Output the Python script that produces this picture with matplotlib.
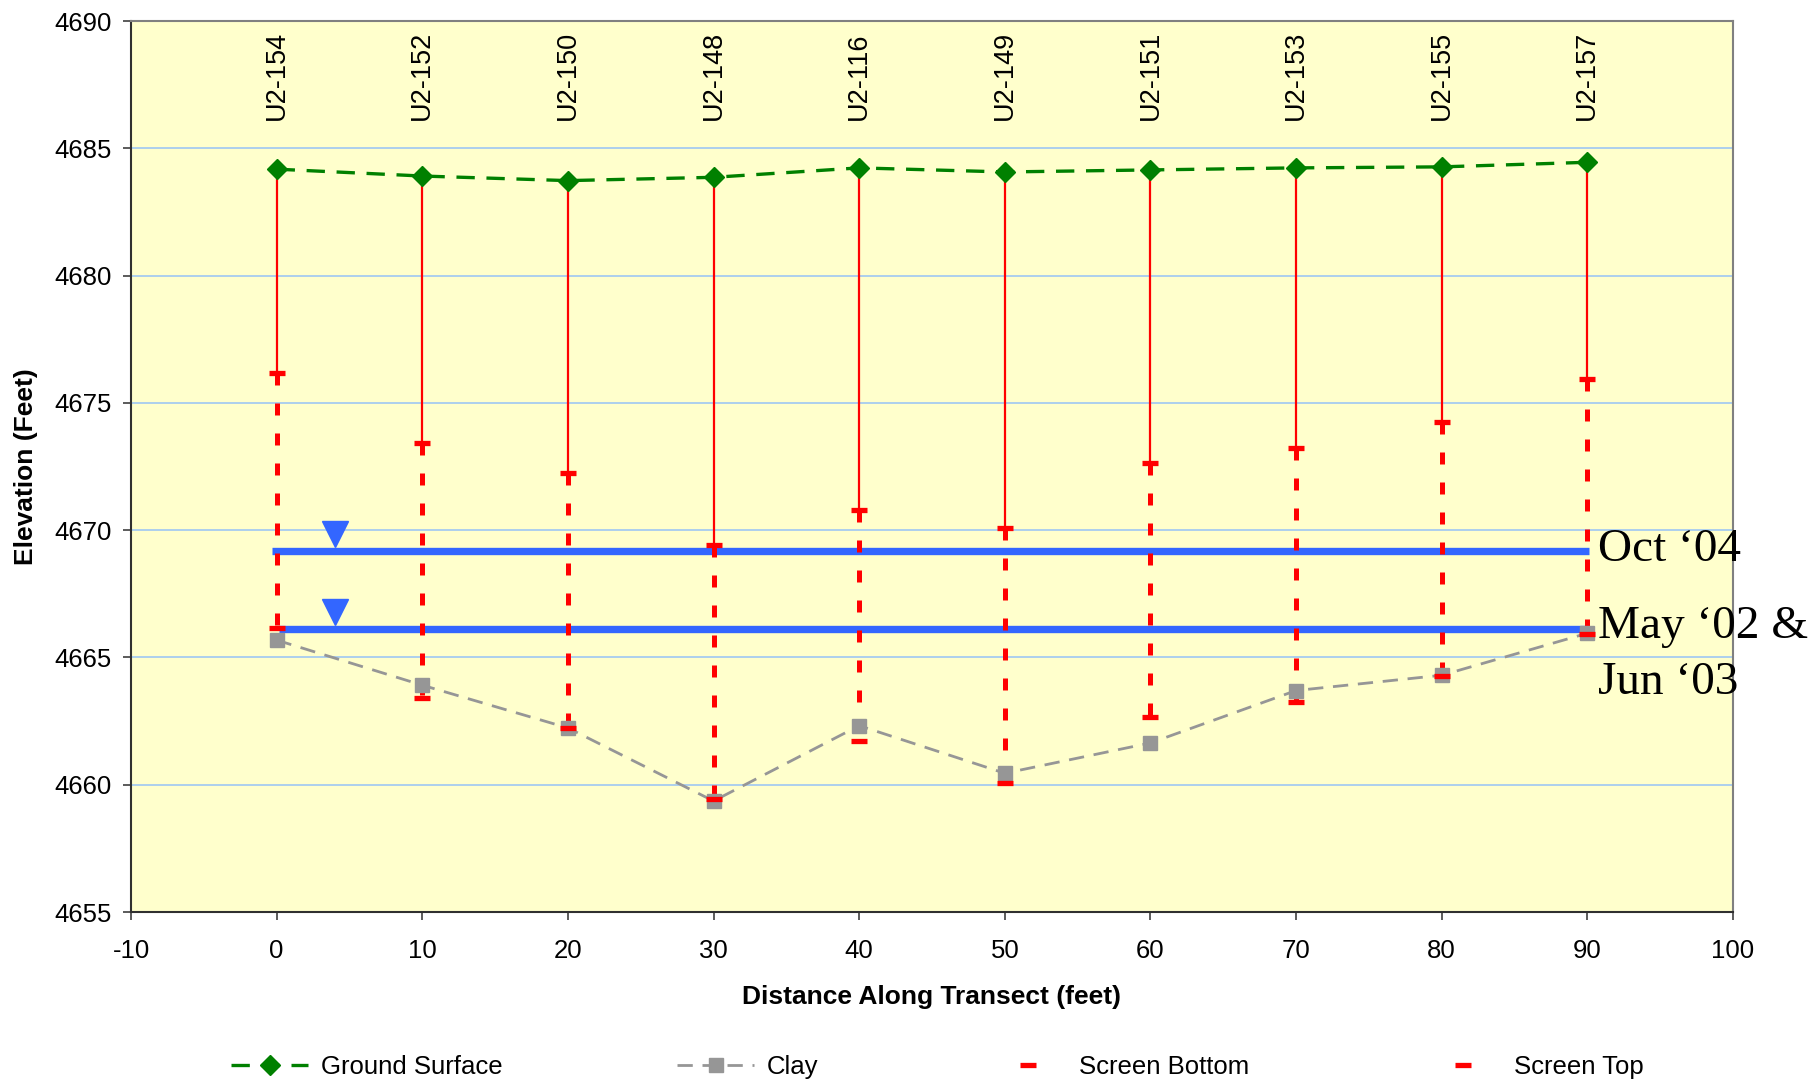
import matplotlib
matplotlib.use("Agg")
import matplotlib.pyplot as plt
import numpy as np

plt.rcParams['font.family'] = ['Liberation Sans', 'DejaVu Sans']
plt.rcParams['axes.unicode_minus'] = False

# ---------------- data ----------------
distance = [0, 10, 20, 30, 40, 50, 60, 70, 80, 90]
wells = ['U2-154', 'U2-152', 'U2-150', 'U2-148', 'U2-116',
         'U2-149', 'U2-151', 'U2-153', 'U2-155', 'U2-157']
ground_surface = [4684.18, 4683.91, 4683.73, 4683.86, 4684.23,
                  4684.07, 4684.15, 4684.23, 4684.27, 4684.45]
clay = [4665.68, 4663.91, 4662.23, 4659.36, 4662.32,
        4660.45, 4661.64, 4663.70, 4664.30, 4665.95]
screen_bottom = [4666.14, 4663.41, 4662.23, 4659.45, 4661.73,
                 4660.07, 4662.66, 4663.25, 4664.26, 4665.91]
screen_top = [4676.18, 4673.41, 4672.23, 4669.41, 4670.80,
              4670.09, 4672.65, 4673.22, 4674.24, 4675.92]
water_labels = ['Oct \u201804', 'May \u201802 &\nJun \u201803']
water_levels = [4669.17, 4666.12]
water_start = [-0.35, 0.15]
water_end = [90.1, 90.1]
marker_x = 4.0

xticks = [-10, 0, 10, 20, 30, 40, 50, 60, 70, 80, 90, 100]
yticks = [4655, 4660, 4665, 4670, 4675, 4680, 4685, 4690]

# ---------------- figure ----------------
fig = plt.figure(figsize=(18.14, 10.80), dpi=100)
ax = fig.add_axes([131 / 1814, 1 - 912 / 1080, (1733 - 131) / 1814, (912 - 21) / 1080])
ax.set_facecolor('#FFFFCC')
ax.set_xlim(-10, 100)
ax.set_ylim(4655, 4690)
ax.set_xticks(xticks)
ax.set_yticks(yticks)
ax.yaxis.grid(True, color='#A6CCF0', lw=1.3)
ax.set_axisbelow(True)

for s in ['top', 'right']:
    ax.spines[s].set_color('#808080')
    ax.spines[s].set_linewidth(1.5)
for s in ['left', 'bottom']:
    ax.spines[s].set_color('#303030')
    ax.spines[s].set_linewidth(1.5)
ax.tick_params(axis='both', direction='out', length=6, width=1.2, color='#404040',
               labelsize=18.5, pad=8)
ax.tick_params(axis='x', pad=13.5)

# water levels
blue = '#3366FF'
for lvl, x0, x1 in zip(water_levels, water_start, water_end):
    ax.plot([x0, x1], [lvl, lvl], color=blue, lw=5.3, solid_capstyle='butt', zorder=2)
    ax.plot([marker_x], [lvl + 0.68], marker='v', ms=18.5, color=blue, ls='none', zorder=2)

# solid riser lines (ground to screen top)
ax.vlines(distance, screen_top, ground_surface, colors='#FF0000', lw=1.6, zorder=3)
# dashed screened interval (screen top down to screen bottom)
ax.vlines(distance, screen_top, screen_bottom, colors='#FF0000', lw=3.6,
          linestyles=[(0, (2.4, 3.6))], zorder=3)

clay_line, = ax.plot(distance, clay, color='#969696', lw=2.0, ls=(0, (5.5, 3.5)),
                     marker='s', ms=10.5, mfc='#969696', mec='#969696', zorder=3,
                     label='Clay')
sb, = ax.plot(distance, screen_bottom, ls='none', marker='_', ms=12, mew=3.8,
              color='#FF0000', zorder=4, label='Screen Bottom')
st, = ax.plot(distance, screen_top, ls='none', marker='_', ms=12, mew=3.8,
              color='#FF0000', zorder=4, label='Screen Top')
gs, = ax.plot(distance, ground_surface, color='#008000', lw=2.4, ls=(0, (5.5, 3.5)),
              marker='D', ms=10, mfc='#008000', mec='#008000', zorder=5,
              label='Ground Surface')

# well names
for x, name in zip(distance, wells):
    ax.text(x, 4686.1, name, rotation=90, ha='center', va='bottom', fontsize=19.5)

# water level labels
ax.text(90.7, water_levels[0] - 0.39, water_labels[0], fontsize=34,
        family=['Liberation Serif'], ha='left', va='baseline', clip_on=False)
ax.text(90.7, water_levels[1] - 2.55, water_labels[1], fontsize=34,
        family=['Liberation Serif'], ha='left', va='baseline', clip_on=False,
        linespacing=1.42)

ax.set_xlabel('Distance Along Transect (feet)', fontsize=19, fontweight='bold')
ax.set_ylabel('Elevation (Feet)', fontsize=19, fontweight='bold')
ax.xaxis.set_label_coords(0.5, -0.082)
ax.yaxis.set_label_coords(-0.058, 0.5)

# legend (Excel-style, entries spread along the bottom)
handles = [gs, clay_line, sb, st]
starts = [231, 677, 989, 1424]
for h, x0 in zip(handles, starts):
    fig.legend([h], [h.get_label()], loc='center left',
               bbox_to_anchor=(x0 / 1814, 1 - 1067 / 1080), frameon=False,
               fontsize=18.5, handlelength=3.0, handletextpad=0.5,
               borderpad=0, borderaxespad=0, numpoints=1)

fig.savefig('out.png', dpi=100)
